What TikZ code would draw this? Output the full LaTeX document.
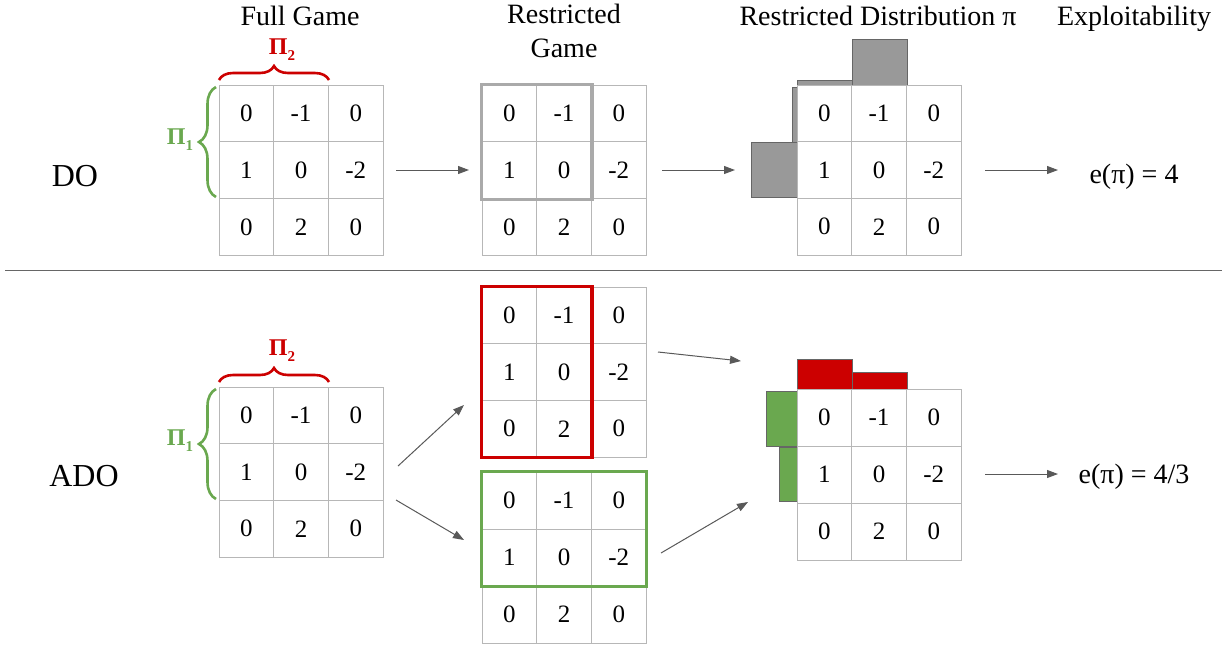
\documentclass[tikz,border=0pt]{standalone}
\usepackage{fontspec}
\setmainfont{Liberation Serif}
\usetikzlibrary{decorations.pathreplacing,arrows.meta}
\definecolor{gridgray}{HTML}{B7B7B7}
\definecolor{pired}{HTML}{CC0000}
\definecolor{pigreen}{HTML}{6AA84F}
\definecolor{barfill}{HTML}{999999}
\definecolor{barline}{HTML}{666666}
\definecolor{arrgray}{HTML}{595959}
\definecolor{rgrayc}{HTML}{AAAAAA}
\newcommand\gamegrid[4]{%
  \foreach \v [count=\i from 0] in {0,-1,0,1,0,-2,0,2,0} {
    \pgfmathsetmacro\cx{#2+27.35+54.7*mod(\i,3)}
    \pgfmathsetmacro\cy{#3+#4/2+#4*floor(\i/3)}
    \node[cell, minimum height=#4pt] (#1-\i) at (\cx,\cy) {\v};
  }}
\begin{document}
\begin{tikzpicture}[x=1pt,y=-1pt,
  cell/.style={draw=gridgray, line width=1pt, minimum width=54.7pt, inner sep=0pt,
    font=\fontsize{25}{25}\selectfont},
  lbl/.style={font=\fontsize{28}{33}\selectfont, inner sep=0pt, anchor=base},
  biglbl/.style={font=\fontsize{32}{36}\selectfont, inner sep=0pt, anchor=base},
  pilbl/.style={font=\fontsize{24}{24}\selectfont\bfseries, inner sep=0pt},
  arr/.style={draw=arrgray, line width=1pt, -{Triangle[length=11pt,width=8pt]}},
  bar/.style={draw=barline, line width=1pt},
  rbrace/.style={decorate, decoration={brace, amplitude=14pt}, draw=pired, line width=2.6pt},
  gbrace/.style={decorate, decoration={brace, amplitude=17pt}, draw=pigreen, line width=2.6pt}]
\useasboundingbox (0,0) rectangle (1223,649);

% titles
\node[lbl] (tfull) at (300,25) {Full Game};
\node[lbl] (trestr) at (564,23) {Restricted};
\node[lbl] (trestr2) at (564,57) {Game};
\node[lbl] (tdist) at (878,25) {Restricted Distribution π};
\node[lbl] (texpl) at (1134,25) {Exploitability};
\node[biglbl] (ldo) at (75,186) {DO};
\node[biglbl] (lado) at (84,486) {ADO};
\node[lbl] (edo) at (1134,183) {e(π) = 4};
\node[lbl] (eado) at (1134,483) {e(π) = 4/3};

% divider
\coordinate (divl) at (5,270);
\coordinate (divr) at (1222,270);
\draw[draw=barline, line width=0.8pt] (divl) -- (divr);

% ===== DO row =====
\gamegrid{tf}{219}{85}{56.9}
\gamegrid{tr}{482}{85}{56.9}
\draw[draw=rgrayc, line width=3.5pt] (tr-0.north west) rectangle (tr-4.south east);
\draw[bar, fill=barfill] (852,39) rectangle (907,85);
\draw[bar, fill=barfill] (797,80) rectangle (852,85);
\draw[bar, fill=barfill] (792,87) rectangle (797,142);
\draw[bar, fill=barfill] (751,142) rectangle (797,197);
\gamegrid{td}{797}{85}{56.7}

% braces DO
\draw[rbrace] (219,80) -- (329,80);
\draw[gbrace] (216,197) -- (216,87);
\node[pilbl, text=pired] (p2a) at (282,50) {Π\raisebox{-6pt}{\fontsize{15}{15}\selectfont 2}};
\node[pilbl, text=pigreen] (p1a) at (180,140) {Π\raisebox{-6pt}{\fontsize{15}{15}\selectfont 1}};

% arrows DO
\coordinate (a1s) at (396,170); \coordinate (a1e) at (469,170);
\coordinate (a2s) at (662,170); \coordinate (a2e) at (735,170);
\coordinate (a3s) at (985,170); \coordinate (a3e) at (1058,170);
\draw[arr] (a1s) -- (a1e);
\draw[arr] (a2s) -- (a2e);
\draw[arr] (a3s) -- (a3e);

% ===== ADO row =====
\gamegrid{bf}{219}{387}{56.7}
\gamegrid{br}{482}{287}{56.7}
\gamegrid{bg}{482}{472}{57}
\draw[draw=pired, line width=3.5pt] (br-0.north west) rectangle (br-7.south east);
\draw[draw=pigreen, line width=3.5pt] (bg-0.north west) rectangle (bg-5.south east);

\draw[bar, fill=pired] (797,359) rectangle (852,389);
\draw[bar, fill=pired] (852,372) rectangle (907,389);
\draw[bar, fill=pigreen] (766,391) rectangle (797,446);
\draw[bar, fill=pigreen] (779,447) rectangle (797,501);
\gamegrid{bd}{797}{389}{57}

\draw[rbrace] (219,382) -- (329,382);
\draw[gbrace] (216,499) -- (216,389);
\node[pilbl, text=pired] (p2b) at (282,351) {Π\raisebox{-6pt}{\fontsize{15}{15}\selectfont 2}};
\node[pilbl, text=pigreen] (p1b) at (180,441) {Π\raisebox{-6pt}{\fontsize{15}{15}\selectfont 1}};

\coordinate (b1s) at (398,466); \coordinate (b1e) at (464,405);
\coordinate (b2s) at (396,500); \coordinate (b2e) at (464,540);
\coordinate (b3s) at (658,352); \coordinate (b3e) at (741,361);
\coordinate (b4s) at (661,553); \coordinate (b4e) at (748,502);
\coordinate (b5s) at (985,474); \coordinate (b5e) at (1058,474);
\draw[arr] (b1s) -- (b1e);
\draw[arr] (b2s) -- (b2e);
\draw[arr] (b3s) -- (b3e);
\draw[arr] (b4s) -- (b4e);
\draw[arr] (b5s) -- (b5e);
\end{tikzpicture}
\end{document}
